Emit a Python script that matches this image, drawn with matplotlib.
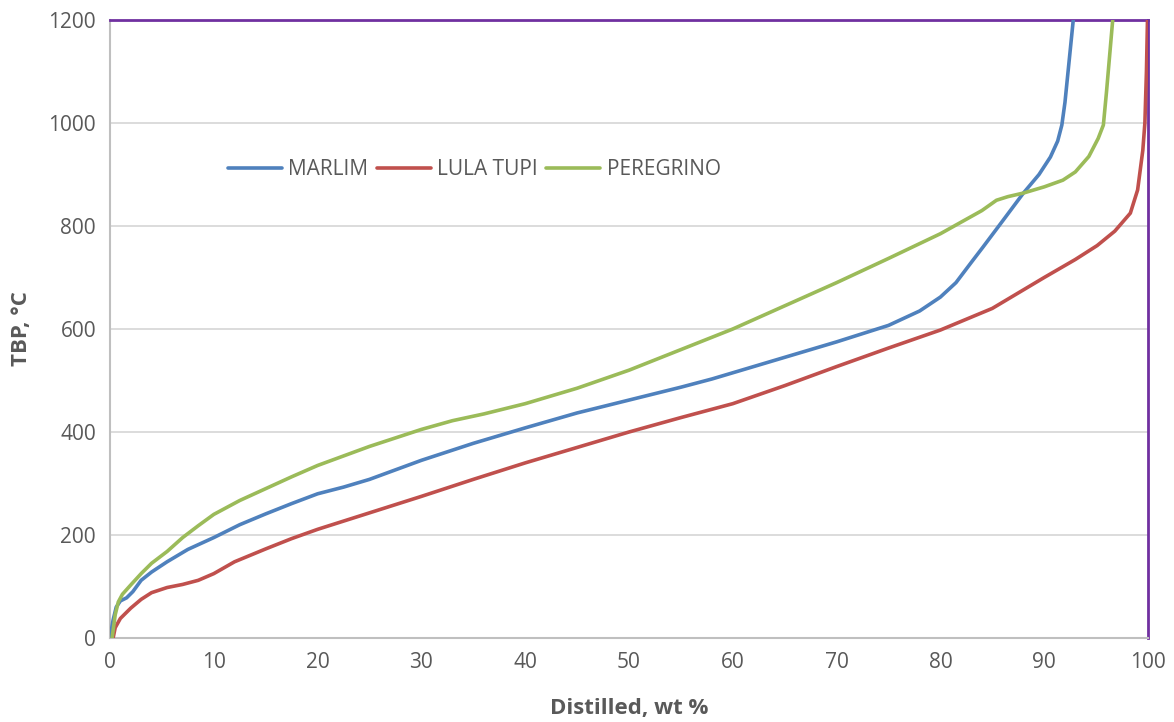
import matplotlib
matplotlib.use("Agg")
import matplotlib.pyplot as plt

plt.rcParams['font.family'] = ['Open Sans', 'DejaVu Sans']

# TBP distillation curves: distilled wt % vs temperature (°C)
marlim_x = [0, 0.3, 0.6, 1.0, 1.6, 2.2, 3.0, 4.0, 5.5, 7.5, 10, 12.5, 15, 17.5, 20, 22.5, 25,
            30, 35, 40, 45, 50, 55, 58, 60, 65, 70, 75, 78, 80, 81.5, 83, 84.1, 86, 88,
            89.5, 90.6, 91.3, 91.7, 92.0, 92.3, 92.6, 92.8]
marlim_y = [0, 35, 60, 72, 78, 90, 112, 128, 148, 172, 195, 220, 241, 261, 280, 293, 308,
            345, 378, 408, 437, 462, 487, 503, 515, 545, 575, 607, 635, 662, 690, 730, 759,
            810, 864, 900, 934, 965, 996, 1040, 1100, 1160, 1200]

lula_x = [0.3, 0.5, 1.0, 2.0, 3.0, 4.0, 5.5, 7.0, 8.5, 10, 12, 15, 17.5, 20, 25, 30, 35, 40,
          45, 50, 55, 60, 65, 70, 75, 80, 85, 90, 93, 95.1, 96.8, 98.3, 99.0, 99.5, 99.7,
          99.85, 99.95]
lula_y = [0, 20, 38, 58, 75, 88, 98, 104, 112, 125, 148, 173, 193, 211, 243, 275, 308, 340,
          370, 400, 428, 455, 490, 527, 563, 598, 640, 700, 735, 762, 790, 825, 870, 947,
          1000, 1100, 1200]

pereg_x = [0.2, 0.5, 0.8, 1.2, 2.0, 3.0, 4.0, 5.5, 7.0, 8.5, 10, 12.5, 15, 17.5, 20, 25, 30,
           33, 36, 40, 45, 50, 55, 60, 65, 70, 75, 80, 84, 85.4, 86.5, 88, 90, 91.8, 93,
           94.3, 95.2, 95.7, 96.0, 96.3, 96.6]
pereg_y = [0, 45, 70, 85, 103, 125, 145, 168, 195, 218, 240, 267, 290, 313, 335, 372, 405,
           422, 435, 455, 485, 520, 560, 600, 645, 690, 737, 785, 830, 850, 857, 864, 876,
           889, 905, 935, 970, 996, 1060, 1130, 1200]

series = [
    ("MARLIM", marlim_x, marlim_y, "#4F81BD"),
    ("LULA TUPI", lula_x, lula_y, "#C0504D"),
    ("PEREGRINO", pereg_x, pereg_y, "#9BBB59"),
]

x_ticks = list(range(0, 101, 10))
y_ticks = list(range(0, 1201, 200))

fig = plt.figure(figsize=(11.74, 7.22), dpi=100)
ax = fig.add_axes([110 / 1174, 1 - 638 / 722, 1038 / 1174, 618 / 722])

for name, xs, ys, col in series:
    ax.plot(xs, ys, color=col, lw=2.6, label=name, solid_capstyle='round',
            solid_joinstyle='round', zorder=3)

ax.set_xlim(0, 100)
ax.set_ylim(0, 1200)
ax.set_xticks(x_ticks)
ax.set_yticks(y_ticks)
ax.tick_params(length=0, labelsize=15, labelcolor="#595959", pad=10)
ax.grid(axis='y', color="#D9D9D9", lw=1.3, zorder=0)
ax.set_axisbelow(True)

for side in ('left', 'bottom'):
    ax.spines[side].set_color("#BFBFBF")
    ax.spines[side].set_linewidth(1.5)
for side in ('top', 'right'):
    ax.spines[side].set_color("#7030A0")
    ax.spines[side].set_linewidth(2)

ax.set_xlabel("Distilled, wt %", fontsize=16, fontweight='bold', color="#595959", labelpad=18)
ax.set_ylabel("TBP, °C", fontsize=16, fontweight='bold', color="#595959", labelpad=12)

ax.legend(loc='center', bbox_to_anchor=(0.351, 0.758), ncol=3, frameon=False,
          fontsize=15, handlelength=2.6, handletextpad=0.3, columnspacing=0.4,
          labelcolor="#595959")

fig.savefig("out.png", dpi=100)
